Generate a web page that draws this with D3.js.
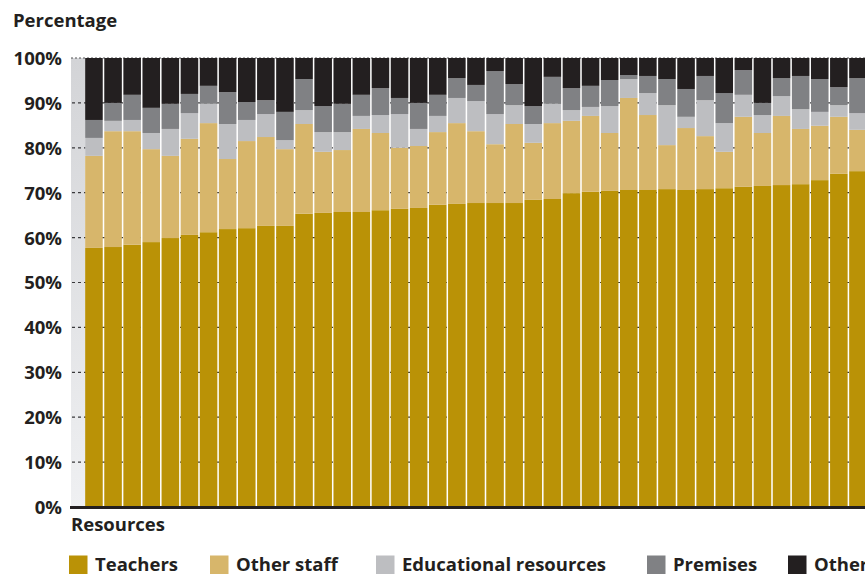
<!DOCTYPE html>
<html>
<head>
<meta charset="utf-8">
<script src="https://cdn.jsdelivr.net/npm/d3@7"></script>
<style>
  html, body { margin: 0; padding: 0; background: #ffffff; }
  svg { display: block; }
  text { font-family: "Open Sans", "Noto Sans", sans-serif; font-weight: 700; fill: #231f20; }
</style>
</head>
<body>
<svg id="chart" width="865" height="574"></svg>
<script>
// Unit identifiers, ordered by the teachers' share
const units = ["U01","U02","U03","U04","U05","U06","U07","U08","U09","U10",
               "U11","U12","U13","U14","U15","U16","U17","U18","U19","U20",
               "U21","U22","U23","U24","U25","U26","U27","U28","U29","U30",
               "U31","U32","U33","U34","U35","U36","U37","U38","U39","U40","U41"];

// Share of resources (%) per category
const teachers = [57.7,57.9,58.4,59.0,59.9,60.6,61.2,61.9,62.1,62.6,
                  62.6,65.3,65.5,65.7,65.7,66.1,66.4,66.6,67.3,67.5,
                  67.7,67.7,67.7,68.4,68.6,69.9,70.2,70.4,70.6,70.6,
                  70.8,70.6,70.8,71.0,71.3,71.5,71.7,71.9,72.8,74.2,74.8];
const otherStaff = [20.5,25.8,25.3,20.7,18.3,21.4,24.3,15.6,19.4,19.8,
                    17.1,20.0,13.6,13.8,18.5,17.2,13.6,13.8,16.2,18.0,
                    16.0,13.1,17.6,12.7,16.9,16.1,16.9,12.9,20.5,16.7,
                    9.8,13.8,11.8,8.1,15.6,11.8,15.4,12.3,12.1,12.7,9.2];
const educational = [4.0,2.3,2.5,3.6,6.0,5.7,4.3,7.8,4.7,5.1,
                     2.0,3.1,4.4,4.0,2.9,4.0,7.5,3.8,3.6,5.6,
                     6.7,6.7,4.2,4.2,4.3,2.4,2.0,6.0,4.2,4.9,
                     8.9,2.5,8.0,6.4,4.9,4.0,4.4,4.4,3.1,2.6,3.7];
const premises = [4.0,4.0,5.6,5.6,5.6,4.3,4.0,7.1,4.0,3.1,
                  6.3,6.9,5.8,6.3,4.7,6.0,3.6,5.8,4.7,4.4,
                  3.6,9.6,4.7,4.0,6.0,4.9,4.7,5.8,0.9,3.8,
                  5.8,6.2,5.4,6.7,5.5,2.7,4.0,7.4,7.3,4.0,7.8];
const other = [13.8,10.0,8.2,11.1,10.2,8.0,6.2,7.6,9.8,9.4,
               12.0,4.7,10.7,10.2,8.2,6.7,8.9,10.0,8.2,4.5,
               6.0,2.9,5.8,10.7,4.2,6.7,6.2,4.9,3.8,4.0,
               4.7,6.9,4.0,7.8,2.7,10.0,4.5,4.0,4.7,6.5,4.5];

const seriesNames = ["Teachers", "Other staff", "Educational resources", "Premises", "Other"];
const seriesColors = ["#ba9206", "#d7b66b", "#bdbec1", "#808184", "#231f20"];
const yTicks = [0, 10, 20, 30, 40, 50, 60, 70, 80, 90, 100];

const rows = units.map((u, i) => ({
  unit: u,
  "Teachers": teachers[i],
  "Other staff": otherStaff[i],
  "Educational resources": educational[i],
  "Premises": premises[i],
  "Other": other[i]
}));

const svg = d3.select("#chart");
const fontSize = 18.5;
const plotLeft = 71, plotRight = 865;
const yTop = 58, yBottom = 507;
const barsStart = 84.4, step = 19.1;

const x = d3.scaleBand()
  .domain(units)
  .range([barsStart, barsStart + step * units.length])
  .paddingInner(0.08)
  .paddingOuter(0.04);

const y = d3.scaleLinear().domain([0, 100]).range([yBottom, yTop]);
const color = d3.scaleOrdinal().domain(seriesNames).range(seriesColors);

// Shaded strip at the left of the plot
const defs = svg.append("defs");
const grad = defs.append("linearGradient")
  .attr("id", "stripGrad").attr("x1", 0).attr("y1", 0).attr("x2", 0).attr("y2", 1);
grad.append("stop").attr("offset", "0%").attr("stop-color", "#d3d4d7");
grad.append("stop").attr("offset", "100%").attr("stop-color", "#eff0f2");
svg.append("rect")
  .attr("x", plotLeft).attr("y", y(100))
  .attr("width", barsStart - plotLeft + 0.6).attr("height", y(0) - y(100))
  .attr("fill", "url(#stripGrad)");

// Gridlines
svg.append("g")
  .selectAll("line")
  .data(yTicks.filter(d => d > 0 && d < 100))
  .join("line")
  .attr("x1", plotLeft + 1).attr("x2", plotRight)
  .attr("y1", d => y(d)).attr("y2", d => y(d))
  .attr("stroke", "#3a3a3c").attr("stroke-width", 1.2)
  .attr("stroke-dasharray", "3,3");

svg.append("line")
  .attr("x1", plotLeft).attr("x2", plotRight)
  .attr("y1", y(100)).attr("y2", y(100))
  .attr("stroke", "#555557").attr("stroke-width", 1.2)
  .attr("stroke-dasharray", "2,2");

// Stacked bars
const stacked = d3.stack().keys(seriesNames)(rows);
svg.append("g")
  .selectAll("g")
  .data(stacked)
  .join("g")
  .attr("fill", d => color(d.key))
  .selectAll("rect")
  .data(d => d)
  .join("rect")
  .attr("x", d => x(d.data.unit))
  .attr("width", x.bandwidth())
  .attr("y", d => y(d[1]))
  .attr("height", d => y(d[0]) - y(d[1]));

// Y axis labels
const yAxis = d3.axisLeft(y)
  .tickValues(yTicks)
  .tickFormat(d => d + "%")
  .tickSize(0)
  .tickPadding(0);
const gy = svg.append("g")
  .attr("transform", `translate(62,0)`)
  .call(yAxis);
gy.select(".domain").remove();
gy.selectAll("text")
  .attr("font-size", fontSize)
  .attr("font-family", "'Open Sans', sans-serif")
  .attr("font-weight", 700)
  .attr("fill", "#231f20")
  .attr("dy", "0.35em");

// Baseline
svg.append("line")
  .attr("x1", plotLeft - 1).attr("x2", plotRight)
  .attr("y1", y(0) + 0.5).attr("y2", y(0) + 0.5)
  .attr("stroke", "#231f20").attr("stroke-width", 3);

// Titles
svg.append("text").attr("x", 13).attr("y", 27)
  .attr("font-size", fontSize).text("Percentage");
svg.append("text").attr("x", 71).attr("y", 531)
  .attr("font-size", fontSize).text("Resources");

// Legend
const legendX = [69, 210, 376, 647, 788];
const legend = svg.append("g")
  .selectAll("g")
  .data(seriesNames)
  .join("g")
  .attr("transform", (d, i) => `translate(${legendX[i]},555.5)`);
legend.append("rect")
  .attr("width", 18.5).attr("height", 18.5)
  .attr("fill", d => color(d));
legend.append("text")
  .attr("x", 26).attr("y", 15)
  .attr("font-size", fontSize)
  .text(d => d);
</script>
</body>
</html>
